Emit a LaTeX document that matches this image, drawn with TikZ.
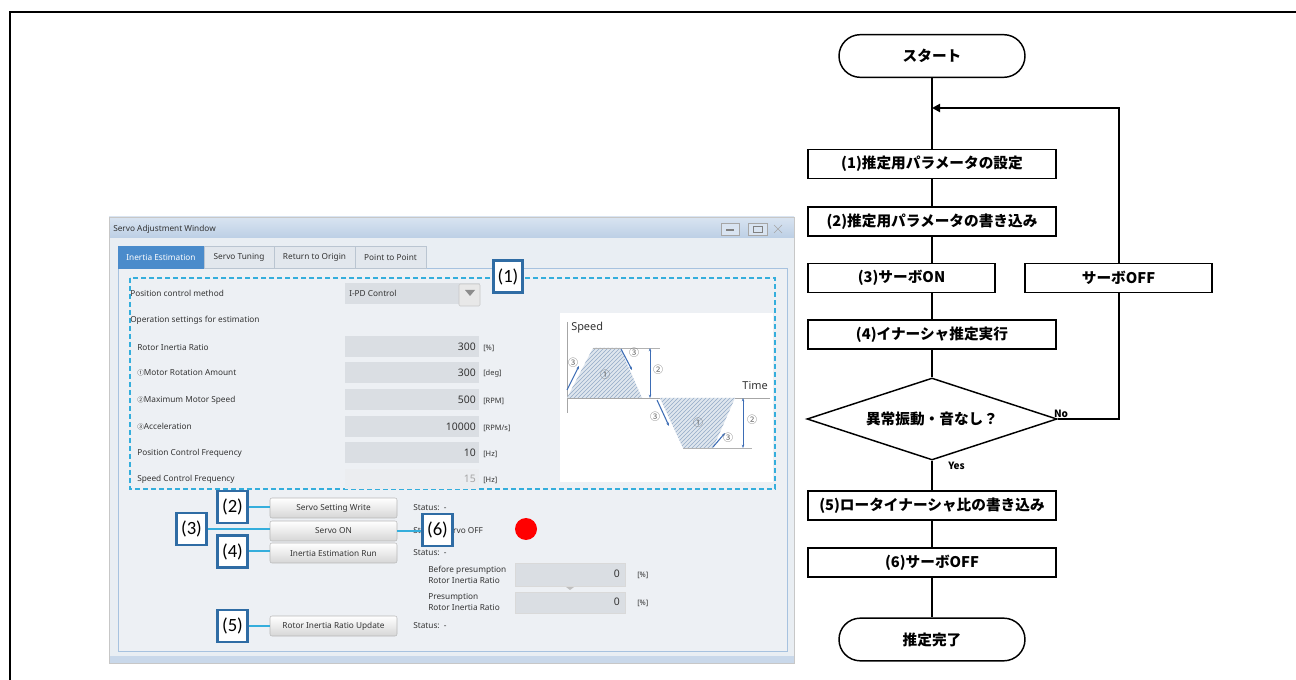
\documentclass[tikz,border=0pt]{standalone}
\usepackage{fontspec}
\setmainfont{Noto Sans}
\newfontfamily\jpfont{Noto Sans CJK JP}
\newfontfamily\calfont{Carlito}
\usetikzlibrary{shapes.geometric,arrows.meta,patterns}

\definecolor{winbg}{HTML}{E9EEF3}
\definecolor{panelbg}{HTML}{EDF0F4}
\definecolor{panelline}{HTML}{A7C2DF}
\definecolor{titletop}{HTML}{D9E4F1}
\definecolor{titlebot}{HTML}{BCCFE5}
\definecolor{tabblue}{HTML}{4A8BCB}
\definecolor{tabgray}{HTML}{E2E7ED}
\definecolor{tabline}{HTML}{BAC5D1}
\definecolor{fieldgray}{HTML}{DADEE3}
\definecolor{dashcyan}{HTML}{35AEDC}
\definecolor{lblblue}{HTML}{2F6CA4}
\definecolor{hatchblue}{HTML}{94ABC8}
\definecolor{arrowblue}{HTML}{3D6DB5}
\definecolor{uitext}{HTML}{333333}

\begin{document}
\begin{tikzpicture}[x=0.75pt, y=-0.75pt,
  ui/.style={font=\fontsize{6.2}{8.2}\selectfont, text=uitext, inner sep=0pt},
  val/.style={font=\fontsize{7.8}{9}\selectfont, text=uitext, inner sep=0pt, anchor=east},
  unit/.style={font=\fontsize{5.6}{7}\selectfont, text=uitext, inner sep=0pt, anchor=west},
  tab/.style={draw=tabline, fill=tabgray, font=\fontsize{6.2}{7.5}\selectfont, text=uitext, minimum height=16.5pt, inner sep=0pt},
  btn/.style={draw=black!28, rounded corners=1.5pt, top color=white, bottom color=black!16, font=\fontsize{6.2}{7.5}\selectfont, text=uitext, minimum width=95.25pt, minimum height=15pt, inner sep=0pt},
  lbl/.style={draw=lblblue, line width=2.2pt, fill=white, font=\calfont\fontsize{14}{16}\selectfont, minimum width=22pt, minimum height=24pt, inner sep=0pt},
  tie/.style={dashcyan, line width=1.5pt},
  circ/.style={font=\jpfont\fontsize{7.5}{8}\selectfont, text=black!60, inner sep=0pt},
  fbox/.style={draw, line width=1.1pt, fill=white, font=\jpfont\bfseries\fontsize{11}{13}\selectfont, minimum height=22pt, inner sep=0pt},
  term/.style={fbox, rounded corners=16pt, minimum width=139.5pt, minimum height=32pt},
  link/.style={line width=1.5pt}
]
\useasboundingbox (0,0) rectangle (1296,680);

% Outer frame
\draw[line width=2pt] (10,680) -- (10,12) -- (1296,12);

% Window and title bar
\fill[winbg] (109,238) rectangle (794,663);
\shade[top color=titletop, bottom color=titlebot] (109,217) rectangle (794,238);
\fill[titlebot!80] (109,656) rectangle (794,663);
\draw[black!22] (109,217) rectangle (794,663);
\node[ui, anchor=west] (title) at (113,229) {Servo Adjustment Window};
\draw[black!35, fill=titletop] (721,223) rectangle (739,235);
\draw[black!50, line width=1pt] (726,230) -- (734,230);
\draw[black!35, fill=titletop] (748,223) rectangle (767,235);
\draw[black!50] (753,226) rectangle (762,232);
\draw[black!35] (774,225) -- (782,233) (774,233) -- (782,225);

% Tabs and panel
\draw[panelline, fill=panelbg] (118,268) rectangle (787,651);
\node[tab, fill=tabblue, draw=tabblue, text=white, minimum width=64.5pt] (tabIE) at (161,257) {Inertia Estimation};
\node[tab, minimum width=52.5pt] (tabST) at (239,257) {Servo Tuning};
\node[tab, minimum width=60.75pt] (tabRO) at (314.5,257) {Return to Origin};
\node[tab, minimum width=53.25pt] (tabPP) at (390.5,257) {Point to Point};

% Estimation settings
\draw[dashcyan, line width=1.3pt, dash pattern=on 3.75pt off 2.25pt] (130,278) rectangle (775,489);
\node[ui, anchor=west] (pcm) at (130,293) {Position control method};
\fill[fieldgray] (345,283) rectangle (480,304);
\draw[black!22, fill=black!9, rounded corners=1pt] (459,284) rectangle (480,306);
\fill[black!45] (465,290) -- (475,290) -- (470,296) -- cycle;
\node[ui, anchor=west] (ipd) at (349,293) {I-PD Control};
\node[ui, anchor=west] (ops) at (130,320) {Operation settings for estimation};
\foreach \y/\txt/\v/\u in {347/{Rotor Inertia Ratio}/300/{[\%]},
    373/{{\jpfont\fontsize{5}{6}\selectfont ①}Motor Rotation Amount}/300/{[deg]},
    400/{{\jpfont\fontsize{5}{6}\selectfont ②}Maximum Motor Speed}/500/{[RPM]},
    427/{{\jpfont\fontsize{5}{6}\selectfont ③}Acceleration}/10000/{[RPM/s]},
    453/{Position Control Frequency}/10/{[Hz]}} {
  \fill[fieldgray] (345,\y-10.5) rectangle (479,\y+10.5);
  \node[ui, anchor=west] (row\y) at (137,\y) {\txt};
  \node[val] (val\y) at (476,\y) {\v};
  \node[unit] (unit\y) at (483,\y+1) {\u};
}
\fill[fieldgray!55] (345,469) rectangle (479,489);
\node[ui, anchor=west] (row479) at (137,479) {Speed Control Frequency};
\node[val, text=black!35] (val479) at (476,479) {15};
\node[unit] (unit479) at (483,480) {[Hz]};

% Speed chart
\fill[white] (560,313) rectangle (773,482);
\draw[black!35] (567,322) -- (567,413);
\draw[black!35] (567,398) -- (770,398);
\node[font=\fontsize{8.2}{9}\selectfont, text=uitext, anchor=west, inner sep=0pt] (spd) at (571,328) {Speed};
\node[font=\fontsize{8.2}{9}\selectfont, text=uitext, anchor=east, inner sep=0pt] (tim) at (768,386) {Time};
\fill[hatchblue!30] (567,398) -- (593,348) -- (620,348) -- (642,398) -- cycle;
\fill[pattern=north east lines, pattern color=hatchblue] (567,398) -- (593,348) -- (620,348) -- (642,398) -- cycle;
\fill[hatchblue!30] (660,398) -- (683,448) -- (713,448) -- (735,398) -- cycle;
\fill[pattern=north east lines, pattern color=hatchblue] (660,398) -- (683,448) -- (713,448) -- (735,398) -- cycle;
\draw[black!30] (593,348) -- (660,348);
\draw[black!30] (683,448) -- (752,448);
\draw[arrowblue, {Stealth[length=2.5pt]}-{Stealth[length=2.5pt]}] (650,348) -- (650,398);
\draw[arrowblue, {Stealth[length=2.5pt]}-{Stealth[length=2.5pt]}] (743,398) -- (743,448);
\draw[arrowblue, line width=0.8pt, -{Stealth[length=2.5pt]}] (567,390) -- (579,366);
\draw[arrowblue, line width=0.8pt, -{Stealth[length=2.5pt]}] (621,349) -- (632,370);
\draw[arrowblue, line width=0.8pt, -{Stealth[length=2.5pt]}] (657,400) -- (669,426);
\draw[arrowblue, line width=0.8pt, -{Stealth[length=2.5pt]}] (713,447) -- (725,433);
\node[circ] (c1a) at (605,375) {①};
\node[circ] (c1b) at (698,423) {①};
\node[circ] (c2a) at (658,370) {②};
\node[circ] (c2b) at (752,420) {②};
\node[circ] (c3a) at (573,363) {③};
\node[circ] (c3b) at (634,353) {③};
\node[circ] (c3c) at (655,417) {③};
\node[circ] (c3d) at (728,438) {③};

% Buttons and status
\node[btn] (bWrite) at (333.5,508) {Servo Setting Write};
\node[btn] (bOn) at (333.5,531) {Servo ON};
\node[btn] (bRun) at (333.5,553) {Inertia Estimation Run};
\node[btn] (bUpd) at (333.5,626) {Rotor Inertia Ratio Update};
\node[ui, anchor=west] (st1) at (413,508) {Status:\ \ -};
\node[ui, anchor=west] (st2) at (413,531) {Status:\ \ Servo OFF};
\node[ui, anchor=west] (st3) at (413,553) {Status:\ \ -};
\node[ui, anchor=west] (st5) at (413,626) {Status:\ \ -};
\fill[red] (526,529) circle (11);
\node[ui, anchor=west, align=left] (bp) at (428,575) {Before presumption\\Rotor Inertia Ratio};
\node[ui, anchor=west, align=left] (pr) at (428,602) {Presumption\\Rotor Inertia Ratio};
\draw[black!15, fill=fieldgray] (515,563) rectangle (625,586);
\draw[black!15, fill=fieldgray] (515,592) rectangle (625,613);
\fill[black!25] (566,587) -- (574,587) -- (570,590) -- cycle;
\node[val] (vbp) at (620,574) {0};
\node[val] (vpr) at (620,602) {0};
\node[unit] (ubp) at (637,575) {[\%]};
\node[unit] (upr) at (637,603) {[\%]};

% Step labels
\node[lbl] (l1) at (508,276.5) {(1)};
\node[lbl] (l2) at (232.5,507) {(2)};
\node[lbl] (l3) at (191.5,529) {(3)};
\node[lbl] (l4) at (232.5,551.5) {(4)};
\node[lbl] (l5) at (232.5,626) {(5)};
\node[lbl] (l6) at (437.5,530) {(6)};
\draw[tie] (l2.east) -- (l2.east -| bWrite.west);
\draw[tie] (l3.east) -- (l3.east -| bOn.west);
\draw[tie] (l4.east) -- (l4.east -| bRun.west);
\draw[tie] (l5.east) -- (l5.east -| bUpd.west);
\draw[tie] (bOn.east) -- (bOn.east -| l6.west);

% Flowchart
\node[term] (start) at (932,56) {スタート};
\node[fbox, minimum width=186pt] (s1) at (932,164) {(1)推定用パラメータの設定};
\node[fbox, minimum width=186pt] (s2) at (932,221.5) {(2)推定用パラメータの書き込み};
\node[fbox, minimum width=140pt] (s3) at (901.5,278) {(3)サーボON};
\node[fbox, minimum width=140pt] (soff) at (1118.5,278) {サーボOFF};
\node[fbox, minimum width=186pt] (s4) at (932,334.5) {(4)イナーシャ推定実行};
\node[diamond, aspect=3, draw, line width=1.1pt, fill=white, font=\jpfont\bfseries\fontsize{11}{13}\selectfont, minimum width=187.5pt, minimum height=61.5pt, inner sep=0pt] (chk) at (932,419) {異常振動・音なし？};
\node[fbox, minimum width=186pt] (s5) at (932,505.5) {(5)ロータイナーシャ比の書き込み};
\node[fbox, minimum width=186pt] (s6) at (932,562.5) {(6)サーボOFF};
\node[term] (done) at (932,639.5) {推定完了};
\coordinate (join) at (932,108);

\draw[link] (start.south) -- (s1.north);
\draw[link] (s1.south) -- (s2.north);
\draw[link] (s2.south) -- (s2.south |- s3.north);
\draw[link] (s4.north |- s3.south) -- (s4.north);
\draw[link] (s4.south) -- (chk.north);
\draw[link] (chk.south) -- (s5.north);
\draw[link] (s5.south) -- (s6.north);
\draw[link] (s6.south) -- (done.north);
\draw[link] (chk.east) -| (soff.south);
\draw[link, -{Triangle[length=6pt,width=6pt]}] (soff.north) |- (join);
\node[font=\jpfont\bfseries\fontsize{7.5}{9}\selectfont, anchor=south west, inner sep=1pt, xshift=-4pt] (no) at (chk.east) {No};
\node[font=\jpfont\bfseries\fontsize{7.5}{9}\selectfont, anchor=north west, inner sep=1pt, xshift=11pt] (yes) at (chk.south) {Yes};
\end{tikzpicture}
\end{document}
